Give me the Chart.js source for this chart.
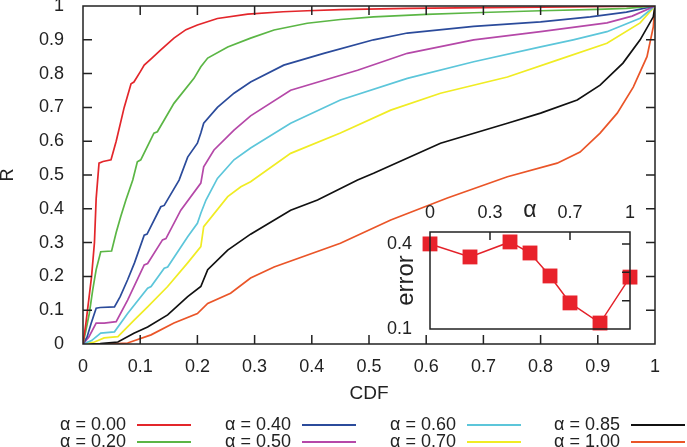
<!DOCTYPE html>
<html>
<head>
<meta charset="utf-8">
<script src="https://cdn.jsdelivr.net/npm/chart.js@4/dist/chart.umd.min.js"></script>
<style>
html, body { margin: 0; padding: 0; background: #fff; }
#wrap { position: relative; width: 687px; height: 447px; overflow: hidden; font-family: "Liberation Sans", Arial, sans-serif; }
#main { position: absolute; left: 0; top: 0; }
#inset { position: absolute; left: 380px; top: 180px; }
.item { position: absolute; font-size: 18px; line-height: 17px; white-space: nowrap; color: #222; }
.item .ln { display: inline-block; width: 54px; height: 0; border-top: 2px solid; vertical-align: middle; margin-left: 11px; }
</style>
</head>
<body>
<div id="wrap">
  <canvas id="main" width="687" height="447"></canvas>
  <canvas id="inset" width="265" height="160"></canvas>
  <div id="legend"></div>
</div>
<script>
// curves: R against CDF, one pair of arrays per alpha
var cdf000 = [0, 0.005, 0.01, 0.015, 0.02, 0.023, 0.028, 0.035, 0.049, 0.058, 0.072, 0.084, 0.089, 0.1, 0.107, 0.12, 0.136, 0.159, 0.18, 0.2, 0.235, 0.288, 0.35, 0.392, 0.45, 0.567, 0.7, 0.85, 1];
var r000   = [0, 0.06, 0.13, 0.2, 0.3, 0.43, 0.535, 0.54, 0.545, 0.6, 0.7, 0.77, 0.775, 0.805, 0.825, 0.845, 0.87, 0.905, 0.93, 0.944, 0.963, 0.976, 0.983, 0.986, 0.989, 0.993, 0.995, 0.997, 1];

var cdf020 = [0, 0.005, 0.011, 0.017, 0.023, 0.031, 0.05, 0.058, 0.066, 0.075, 0.087, 0.095, 0.101, 0.124, 0.13, 0.159, 0.194, 0.206, 0.218, 0.253, 0.293, 0.334, 0.392, 0.45, 0.508, 0.6, 0.683, 0.8, 0.9, 0.95, 1];
var r020   = [0, 0.04, 0.09, 0.16, 0.22, 0.273, 0.275, 0.33, 0.377, 0.426, 0.485, 0.539, 0.545, 0.624, 0.628, 0.712, 0.786, 0.82, 0.846, 0.879, 0.905, 0.929, 0.949, 0.96, 0.968, 0.975, 0.98, 0.986, 0.99, 0.993, 1];

var cdf040 = [0, 0.007, 0.014, 0.023, 0.03, 0.055, 0.065, 0.078, 0.09, 0.107, 0.112, 0.136, 0.142, 0.168, 0.183, 0.2, 0.206, 0.211, 0.235, 0.264, 0.293, 0.351, 0.421, 0.508, 0.567, 0.683, 0.8, 0.887, 0.95, 1];
var r040   = [0, 0.02, 0.06, 0.106, 0.108, 0.11, 0.14, 0.19, 0.24, 0.322, 0.325, 0.406, 0.41, 0.485, 0.553, 0.594, 0.624, 0.653, 0.7, 0.742, 0.775, 0.825, 0.86, 0.9, 0.92, 0.94, 0.953, 0.968, 0.982, 1];

var cdf050 = [0, 0.01, 0.023, 0.037, 0.058, 0.078, 0.107, 0.113, 0.139, 0.145, 0.171, 0.206, 0.211, 0.229, 0.264, 0.293, 0.363, 0.48, 0.567, 0.683, 0.8, 0.916, 0.96, 1];
var r050   = [0, 0.02, 0.062, 0.062, 0.066, 0.13, 0.234, 0.238, 0.308, 0.312, 0.396, 0.476, 0.524, 0.574, 0.633, 0.675, 0.751, 0.81, 0.86, 0.9, 0.924, 0.95, 0.97, 1];

var cdf060 = [0, 0.015, 0.031, 0.055, 0.078, 0.113, 0.119, 0.142, 0.148, 0.183, 0.2, 0.206, 0.215, 0.235, 0.264, 0.293, 0.363, 0.45, 0.567, 0.683, 0.8, 0.857, 0.916, 0.974, 1];
var r060   = [0, 0.01, 0.032, 0.036, 0.09, 0.165, 0.17, 0.224, 0.228, 0.317, 0.357, 0.387, 0.426, 0.49, 0.545, 0.58, 0.653, 0.722, 0.786, 0.835, 0.879, 0.9, 0.924, 0.964, 1];

var cdf070 = [0, 0.02, 0.037, 0.061, 0.089, 0.113, 0.148, 0.183, 0.206, 0.211, 0.253, 0.276, 0.293, 0.363, 0.45, 0.538, 0.625, 0.742, 0.829, 0.916, 0.974, 1];
var r070   = [0, 0.006, 0.018, 0.022, 0.07, 0.11, 0.17, 0.24, 0.288, 0.347, 0.436, 0.465, 0.48, 0.564, 0.624, 0.692, 0.742, 0.79, 0.84, 0.89, 0.95, 1];

var cdf085 = [0, 0.03, 0.061, 0.089, 0.113, 0.148, 0.183, 0.206, 0.218, 0.253, 0.293, 0.363, 0.41, 0.48, 0.508, 0.625, 0.742, 0.8, 0.864, 0.904, 0.944, 0.974, 0.997, 1];
var r085   = [0, 0.001, 0.006, 0.032, 0.05, 0.086, 0.14, 0.17, 0.22, 0.278, 0.325, 0.396, 0.426, 0.485, 0.505, 0.594, 0.653, 0.683, 0.722, 0.766, 0.831, 0.9, 0.968, 1];

var cdf100 = [0, 0.04, 0.078, 0.119, 0.159, 0.2, 0.218, 0.258, 0.293, 0.334, 0.45, 0.538, 0.637, 0.742, 0.829, 0.869, 0.904, 0.934, 0.962, 0.986, 0.997, 1];
var r100   = [0, 0, 0.003, 0.027, 0.062, 0.09, 0.12, 0.15, 0.195, 0.228, 0.298, 0.367, 0.432, 0.495, 0.535, 0.568, 0.624, 0.683, 0.76, 0.85, 0.938, 1];

var alphaLabels = ['α = 0.00', 'α = 0.20', 'α = 0.40', 'α = 0.50', 'α = 0.60', 'α = 0.70', 'α = 0.85', 'α = 1.00'];
var cdfSets = [cdf000, cdf020, cdf040, cdf050, cdf060, cdf070, cdf085, cdf100];
var rSets = [r000, r020, r040, r050, r060, r070, r085, r100];
var lineColors = ['#e3262b', '#5bb645', '#2b4b9b', '#b548a8', '#5cc6da', '#f0ec24', '#111111', '#ea5528'];

var mainTicks = [0, 0.1, 0.2, 0.3, 0.4, 0.5, 0.6, 0.7, 0.8, 0.9, 1];

// inset: error against alpha
var insetAlpha = [0, 0.2, 0.4, 0.5, 0.6, 0.7, 0.85, 1];
var insetError = [0.400, 0.354, 0.407, 0.368, 0.287, 0.192, 0.121, 0.283];
var insetXTicks = [0, 0.3, 0.5, 0.7, 1];
var insetYTicks = [0.1, 0.4];

var FONT = '"Liberation Sans", Arial, sans-serif';
var INK = '#222';

// gnuplot style frame: box plus ticks pointing inward
var frameTicks = {
	id: 'frameTicks',
	afterDatasetsDraw: function(chart, args, opts) {
		var ctx = chart.ctx, a = chart.chartArea;
		var xs = chart.scales.x, ys = chart.scales.y;
		var L = opts.len || 9;
		ctx.save();
		ctx.strokeStyle = INK;
		ctx.lineWidth = 1.5;
		ctx.strokeRect(a.left, a.top, a.right - a.left, a.bottom - a.top);
		ctx.beginPath();
		(opts.xBottom || []).forEach(function(v) {
			var px = xs.getPixelForValue(v);
			ctx.moveTo(px, a.bottom); ctx.lineTo(px, a.bottom - L);
		});
		(opts.xTop || []).forEach(function(v) {
			var px = xs.getPixelForValue(v);
			ctx.moveTo(px, a.top); ctx.lineTo(px, a.top + L);
		});
		(opts.yLeft || []).forEach(function(v) {
			var py = ys.getPixelForValue(v);
			ctx.moveTo(a.left, py); ctx.lineTo(a.left + L, py);
		});
		(opts.yRight || []).forEach(function(v) {
			var py = ys.getPixelForValue(v);
			ctx.moveTo(a.right, py); ctx.lineTo(a.right - L, py);
		});
		ctx.stroke();
		ctx.restore();
	}
};

function fmt(v) {
	if (v === 0 || v === 1) return String(v);
	return v.toFixed(1);
}

var datasets = [];
for (var i = 0; i < cdfSets.length; i++) {
	var pts = [];
	for (var j = 0; j < cdfSets[i].length; j++) {
		pts.push({x: cdfSets[i][j], y: rSets[i][j]});
	}
	datasets.push({
		label: alphaLabels[i],
		data: pts,
		showLine: true,
		borderColor: lineColors[i],
		backgroundColor: lineColors[i],
		borderWidth: 1.7,
		pointRadius: 0,
		tension: 0
	});
}
var inner = mainTicks.slice(1, -1);

new Chart(document.getElementById('main'), {
	type: 'scatter',
	data: { datasets: datasets },
	options: {
		responsive: false,
		animation: false,
		devicePixelRatio: 1,
		layout: { padding: { left: 0, top: 6, right: 32, bottom: 42 } },
		plugins: {
			legend: { display: false },
			tooltip: { enabled: false },
			frameTicks: { len: 9, xBottom: inner, xTop: inner, yLeft: inner, yRight: inner }
		},
		scales: {
			x: {
				type: 'linear', min: 0, max: 1,
				grid: { display: false },
				border: { display: false },
				afterBuildTicks: function(s) { s.ticks = mainTicks.map(function(v) { return {value: v}; }); },
				afterFit: function(s) { s.height = 61; s.paddingLeft = 0; s.paddingRight = 0; },
				ticks: { padding: 4, color: INK, font: { family: FONT, size: 18 }, maxRotation: 0, callback: fmt },
				title: { display: true, text: 'CDF', color: INK, padding: 0, font: { family: FONT, size: 19 } }
			},
			y: {
				type: 'linear', min: 0, max: 1,
				grid: { display: false },
				border: { display: false },
				afterBuildTicks: function(s) { s.ticks = mainTicks.map(function(v) { return {value: v}; }); },
				afterFit: function(s) { s.width = 83; s.paddingTop = 0; s.paddingBottom = 0; },
				ticks: { padding: 11, color: INK, font: { family: FONT, size: 18 }, callback: fmt },
				title: { display: true, text: 'R', color: INK, padding: 0, font: { family: FONT, size: 18, lineHeight: 0.9 } }
			}
		}
	},
	plugins: [frameTicks]
});

var insetPts = insetAlpha.map(function(a, k) { return {x: a, y: insetError[k]}; });

new Chart(document.getElementById('inset'), {
	type: 'scatter',
	data: {
		datasets: [{
			data: insetPts,
			showLine: true,
			borderColor: '#e4222a',
			backgroundColor: '#e8222b',
			borderWidth: 1.5,
			pointStyle: 'rect',
			pointRadius: 10.5,
			pointBorderWidth: 0,
			clip: false,
			tension: 0
		}]
	},
	options: {
		responsive: false,
		animation: false,
		devicePixelRatio: 1,
		layout: { padding: { left: 0, top: 0, right: 15, bottom: 11 } },
		plugins: {
			legend: { display: false },
			tooltip: { enabled: false },
			frameTicks: { len: 8, xTop: [0.3, 0.7], yRight: [0.2, 0.3, 0.4] }
		},
		scales: {
			x: {
				type: 'linear', position: 'top', min: 0, max: 1,
				grid: { display: false },
				border: { display: false },
				afterBuildTicks: function(s) { s.ticks = insetXTicks.map(function(v) { return {value: v}; }); },
				afterFit: function(s) { s.height = 52; s.paddingLeft = 0; s.paddingRight = 0; },
				ticks: {
					padding: 0, color: INK, maxRotation: 0,
					font: function(c) { return { family: FONT, size: (c.tick && c.tick.value === 0.5) ? 23 : 18 }; },
					callback: function(v) { return v === 0.5 ? 'α' : String(v); }
				}
			},
			y: {
				type: 'linear', min: 0.1, max: 0.442,
				grid: { display: false },
				border: { display: false },
				afterBuildTicks: function(s) { s.ticks = insetYTicks.map(function(v) { return {value: v}; }); },
				afterFit: function(s) { s.width = 50; s.paddingTop = 0; s.paddingBottom = 0; },
				ticks: { padding: 10, color: INK, font: { family: FONT, size: 18 }, callback: function(v) { return v.toFixed(1); } },
				title: { display: true, text: 'error', color: INK, padding: { top: 12, bottom: 0 }, font: { family: FONT, size: 24 } }
			}
		}
	},
	plugins: [frameTicks]
});

// legend below the plot, four columns, text then line sample
var legend = document.getElementById('legend');
var colLeft = [60, 225, 390, 554];
var rowTop = [416, 433];
for (var n = 0; n < alphaLabels.length; n++) {
	var div = document.createElement('div');
	div.className = 'item';
	div.style.left = colLeft[Math.floor(n / 2)] + 'px';
	div.style.top = rowTop[n % 2] + 'px';
	div.innerHTML = alphaLabels[n] + '<span class="ln" style="border-color:' + lineColors[n] + '"></span>';
	legend.appendChild(div);
}
</script>
</body>
</html>
